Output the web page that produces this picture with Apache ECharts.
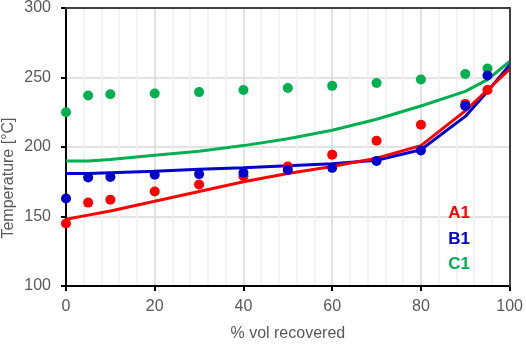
<!DOCTYPE html>
<html>
<head>
<meta charset="utf-8">
<script src="https://cdn.jsdelivr.net/npm/echarts@6/dist/echarts.min.js"></script>
<style>html,body{margin:0;padding:0;background:#fff}#c{width:526px;height:347px}</style>
</head>
<body>
<div id="c"></div>
<script>
// Measured points (% vol recovered)
var xMeasured = [0, 5, 10, 20, 30, 40, 50, 60, 70, 80, 90, 95];
var a1Measured = [145, 160, 162, 168, 173, 179, 186, 194.5, 204.5, 216, 231, 241];
var b1Measured = [163, 178, 178.5, 180, 180.5, 181.5, 183.5, 185, 190, 197.5, 229.5, 251.5];
var c1Measured = [225, 237, 238, 238.5, 239.5, 241, 242.5, 244, 246, 248.5, 252.5, 256.5];

// Model curves
var xModel = [0, 5, 10, 20, 30, 40, 50, 60, 70, 80, 90, 95, 100];
var a1Model = [148, 151, 154, 161, 168, 175, 181, 186, 192, 201, 226, 241, 256];
var b1Model = [181, 181, 181.5, 182.5, 184, 185, 186.5, 188, 190.5, 198, 222, 240, 259];
var c1Model = [190, 190, 191, 194, 197, 201, 206, 212, 220, 229.5, 240, 248.5, 261.5];

var xTicks = [0, 20, 40, 60, 80, 100];
var yTicks = [100, 150, 200, 250, 300];
var seriesNames = ['A1', 'B1', 'C1'];

var RED = '#ff0000', BLUE = '#0000cc', GREEN = '#00b050';
function zip(xs, ys) { return xs.map(function (x, i) { return [x, ys[i]]; }); }

var chart = echarts.init(document.getElementById('c'), null, { renderer: 'canvas' });
var FONT = 'Liberation Sans';
var xMin = xTicks[0], xMax = xTicks[xTicks.length - 1];
var yMin = yTicks[0], yMax = yTicks[yTicks.length - 1];
function borderAxis(pos) {
  return {
    type: 'value', position: pos, min: pos === 'top' ? xMin : yMin, max: pos === 'top' ? xMax : yMax,
    axisLine: { show: true, onZero: false, lineStyle: { color: '#404040', width: 2 } },
    axisTick: { show: false }, axisLabel: { show: false }, splitLine: { show: false }, z: 5
  };
}
var option = {
  animation: false,
  grid: { left: 66, right: 15, top: 7, bottom: 56 },
  xAxis: [{
    type: 'value', position: 'bottom', min: xMin, max: xMax, interval: 20,
    name: '% vol recovered', nameLocation: 'middle', nameGap: 40,
    nameTextStyle: { color: '#595959', fontSize: 16, fontFamily: FONT },
    axisLine: { show: true, onZero: false, lineStyle: { color: '#000', width: 2 } },
    axisTick: { show: true, inside: false, length: 5, lineStyle: { color: '#000', width: 2 } },
    axisLabel: { color: '#595959', fontSize: 16, fontFamily: FONT, margin: 13 },
    splitLine: { show: true, lineStyle: { color: '#d9d9d9', width: 1.5 } },
    minorTick: { show: false, splitNumber: 5 },
    minorSplitLine: { show: true, lineStyle: { color: '#efefef', width: 1.5 } }
  }, borderAxis('top')],
  yAxis: [{
    type: 'value', position: 'left', min: yMin, max: yMax, interval: 50,
    axisLine: { show: true, onZero: false, lineStyle: { color: '#000', width: 2 } },
    axisTick: { show: true, inside: false, length: 5, lineStyle: { color: '#000', width: 2 } },
    axisLabel: { color: '#595959', fontSize: 16, fontFamily: FONT, margin: 15 },
    splitLine: { show: true, lineStyle: { color: '#d9d9d9', width: 1.5 } }
  }, borderAxis('right')],
  graphic: [
    { type: 'text', z: 100, x: 9, y: 178, rotation: Math.PI / 2, style: { text: 'Temperature [°C]', fill: '#595959', font: '16px "' + FONT + '"', textAlign: 'center', textVerticalAlign: 'middle' } },
    { type: 'text', z: 100, x: 459, y: 213, style: { text: seriesNames[0], fill: RED, font: 'bold 17px "' + FONT + '"', textAlign: 'center', textVerticalAlign: 'middle' } },
    { type: 'text', z: 100, x: 459, y: 239, style: { text: seriesNames[1], fill: BLUE, font: 'bold 17px "' + FONT + '"', textAlign: 'center', textVerticalAlign: 'middle' } },
    { type: 'text', z: 100, x: 459, y: 264, style: { text: seriesNames[2], fill: GREEN, font: 'bold 17px "' + FONT + '"', textAlign: 'center', textVerticalAlign: 'middle' } }
  ],
  series: [
    { name: 'C1 model', type: 'line', data: zip(xModel, c1Model), showSymbol: false, symbol: 'none', lineStyle: { color: GREEN, width: 3 }, z: 2 },
    { name: 'B1 model', type: 'line', data: zip(xModel, b1Model), showSymbol: false, symbol: 'none', lineStyle: { color: BLUE, width: 3 }, z: 2 },
    { name: 'A1 model', type: 'line', data: zip(xModel, a1Model), showSymbol: false, symbol: 'none', lineStyle: { color: RED, width: 3 }, z: 2 },
    { name: 'C1', type: 'scatter', data: zip(xMeasured, c1Measured), symbolSize: 10, itemStyle: { color: GREEN, opacity: 1 }, z: 3 },
    { name: 'A1', type: 'scatter', data: zip(xMeasured, a1Measured), symbolSize: 10, itemStyle: { color: RED, opacity: 1 }, z: 3 },
    { name: 'B1', type: 'scatter', data: zip(xMeasured, b1Measured), symbolSize: 10, itemStyle: { color: BLUE, opacity: 1 }, z: 3 }
  ]
};
chart.setOption(option);
</script>
</body>
</html>
